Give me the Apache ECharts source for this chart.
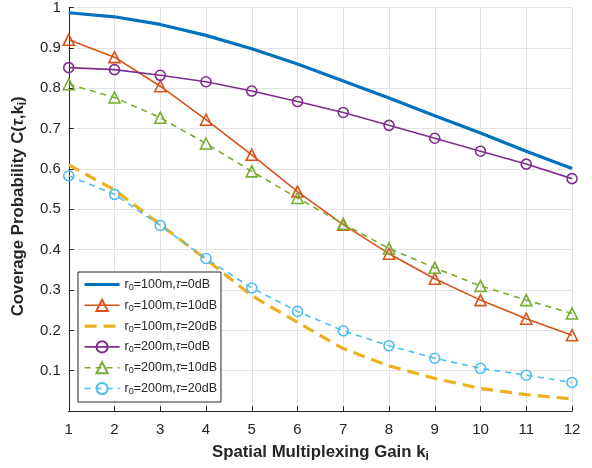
<!DOCTYPE html>
<html>
<head>
<meta charset="utf-8">
<script src="https://cdn.jsdelivr.net/npm/echarts@6/dist/echarts.min.js"></script>
<style>html,body{margin:0;padding:0;background:#fff}#c{width:592px;height:468px}</style>
</head>
<body>
<div id="c"></div>
<script>
const kValues = [1,2,3,4,5,6,7,8,9,10,11,12];
const r100_0dB  = [0.987,0.977,0.958,0.931,0.898,0.860,0.818,0.776,0.732,0.689,0.644,0.601];
const r100_10dB = [0.920,0.877,0.805,0.722,0.635,0.544,0.462,0.390,0.328,0.275,0.229,0.188];
const r100_20dB = [0.610,0.548,0.462,0.376,0.286,0.220,0.155,0.112,0.081,0.056,0.041,0.030];
const r200_0dB  = [0.851,0.846,0.832,0.816,0.793,0.767,0.740,0.708,0.676,0.644,0.612,0.576];
const r200_10dB = [0.810,0.777,0.727,0.663,0.594,0.528,0.464,0.403,0.355,0.310,0.275,0.242];
const r200_20dB = [0.583,0.537,0.460,0.378,0.305,0.247,0.199,0.162,0.131,0.106,0.089,0.071];
const seriesNames = ['r{s|0}=100m,{t|τ}=0dB','r{s|0}=100m,{t|τ}=10dB','r{s|0}=100m,{t|τ}=20dB',
                     'r{s|0}=200m,{t|τ}=0dB','r{s|0}=200m,{t|τ}=10dB','r{s|0}=200m,{t|τ}=20dB'];

const FONT = '"Liberation Sans", Arial, Helvetica, sans-serif';
const TXT = '#262626';
function pairs(arr){ return kValues.map((k,i)=>[k,arr[i]]); }

function mk(name, data, color, width, dash, symbol){
  return {
    name: name, type: 'line', data: pairs(data),
    symbol: symbol || 'none', symbolSize: symbol==='triangle' ? 11 : 10,
    showSymbol: !!symbol,
    lineStyle: {color: color, width: width, type: dash || 'solid'},
    itemStyle: symbol
      ? {color: 'rgba(255,255,255,0)', borderColor: color, borderWidth: 1.6}
      : {color: 'rgba(255,255,255,0)', borderColor: 'rgba(255,255,255,0)', borderWidth: 0},
    emphasis: {disabled: true},
    animation: false
  };
}

const chart = echarts.init(document.getElementById('c'), null, {renderer: 'canvas'});
const subRich = {
  s: {fontSize: 9, fontFamily: FONT, color: TXT, padding: [6,0,0,0], lineHeight: 8},
  t: {fontSize: 12.5, fontFamily: FONT, fontStyle: 'italic', color: TXT, lineHeight: 14}
};
chart.setOption({
  backgroundColor: '#fff',
  animation: false,
  grid: {left: 67, right: 20, top: 6, bottom: 56, containLabel: false},
  xAxis: {
    type: 'value', min: 1, max: 12, interval: 1,
    name: 'Spatial Multiplexing Gain k{s|i}', nameLocation: 'middle', nameGap: 32,
    nameTextStyle: {fontFamily: FONT, fontSize: 16.8, fontWeight: 'bold', color: TXT,
      rich: {s: {fontSize: 12, fontWeight: 'bold', fontFamily: FONT, color: TXT, padding: [9,0,0,0], lineHeight: 12}}},
    axisLine: {show: true, lineStyle: {color: TXT, width: 1}},
    axisTick: {show: true, inside: true, length: 5, lineStyle: {color: TXT}},
    axisLabel: {fontFamily: FONT, fontSize: 15, color: TXT, margin: 11},
    splitLine: {show: true, lineStyle: {color: '#e3e3e3', width: 1}}
  },
  yAxis: {
    type: 'value', min: 0, max: 1, interval: 0.1,
    name: 'Coverage Probability C({t|τ},k{s|i})', nameLocation: 'middle', nameGap: 37, nameRotate: 90,
    nameTextStyle: {fontFamily: FONT, fontSize: 16.8, fontWeight: 'bold', color: TXT, padding: [0,0,0,6],
      rich: {s: {fontSize: 12, fontWeight: 'bold', fontFamily: FONT, color: TXT, padding: [9,0,0,0], lineHeight: 12},
             t: {fontSize: 16.8, fontFamily: FONT, fontStyle: 'italic', color: TXT}}},
    axisLine: {show: true, lineStyle: {color: TXT, width: 1}},
    axisTick: {show: true, inside: true, length: 5, lineStyle: {color: TXT}},
    axisLabel: {fontFamily: FONT, fontSize: 15, color: TXT, margin: 8,
      formatter: function(v){ const r = Math.round(v*10)/10; return r === 0 ? '' : String(r); }},
    splitLine: {show: true, lineStyle: {color: '#e3e3e3', width: 1}}
  },
  legend: {
    orient: 'vertical', left: 78, top: 272,
    backgroundColor: '#fff', borderColor: '#262626', borderWidth: 1,
    padding: [5,4,6,5], itemGap: 5.8, itemWidth: 35, itemHeight: 14,
    lineStyle: {width: 'inherit'},
    textStyle: {fontFamily: FONT, fontSize: 12.5, color: TXT, lineHeight: 14, rich: subRich},
    data: seriesNames
  },
  series: [
    mk(seriesNames[0], r100_0dB,  '#0072BD', 3.2, 'solid'),
    mk(seriesNames[1], r100_10dB, '#D95319', 1.6, 'solid', 'triangle'),
    mk(seriesNames[2], r100_20dB, '#EDB120', 3.2, [12,7]),
    mk(seriesNames[3], r200_0dB,  '#7E2F8E', 1.6, 'solid', 'circle'),
    mk(seriesNames[4], r200_10dB, '#77AC30', 1.6, [6,5], 'triangle'),
    mk(seriesNames[5], r200_20dB, '#4DBEEE', 1.6, [6,5], 'circle')
  ]
});
</script>
</body>
</html>
